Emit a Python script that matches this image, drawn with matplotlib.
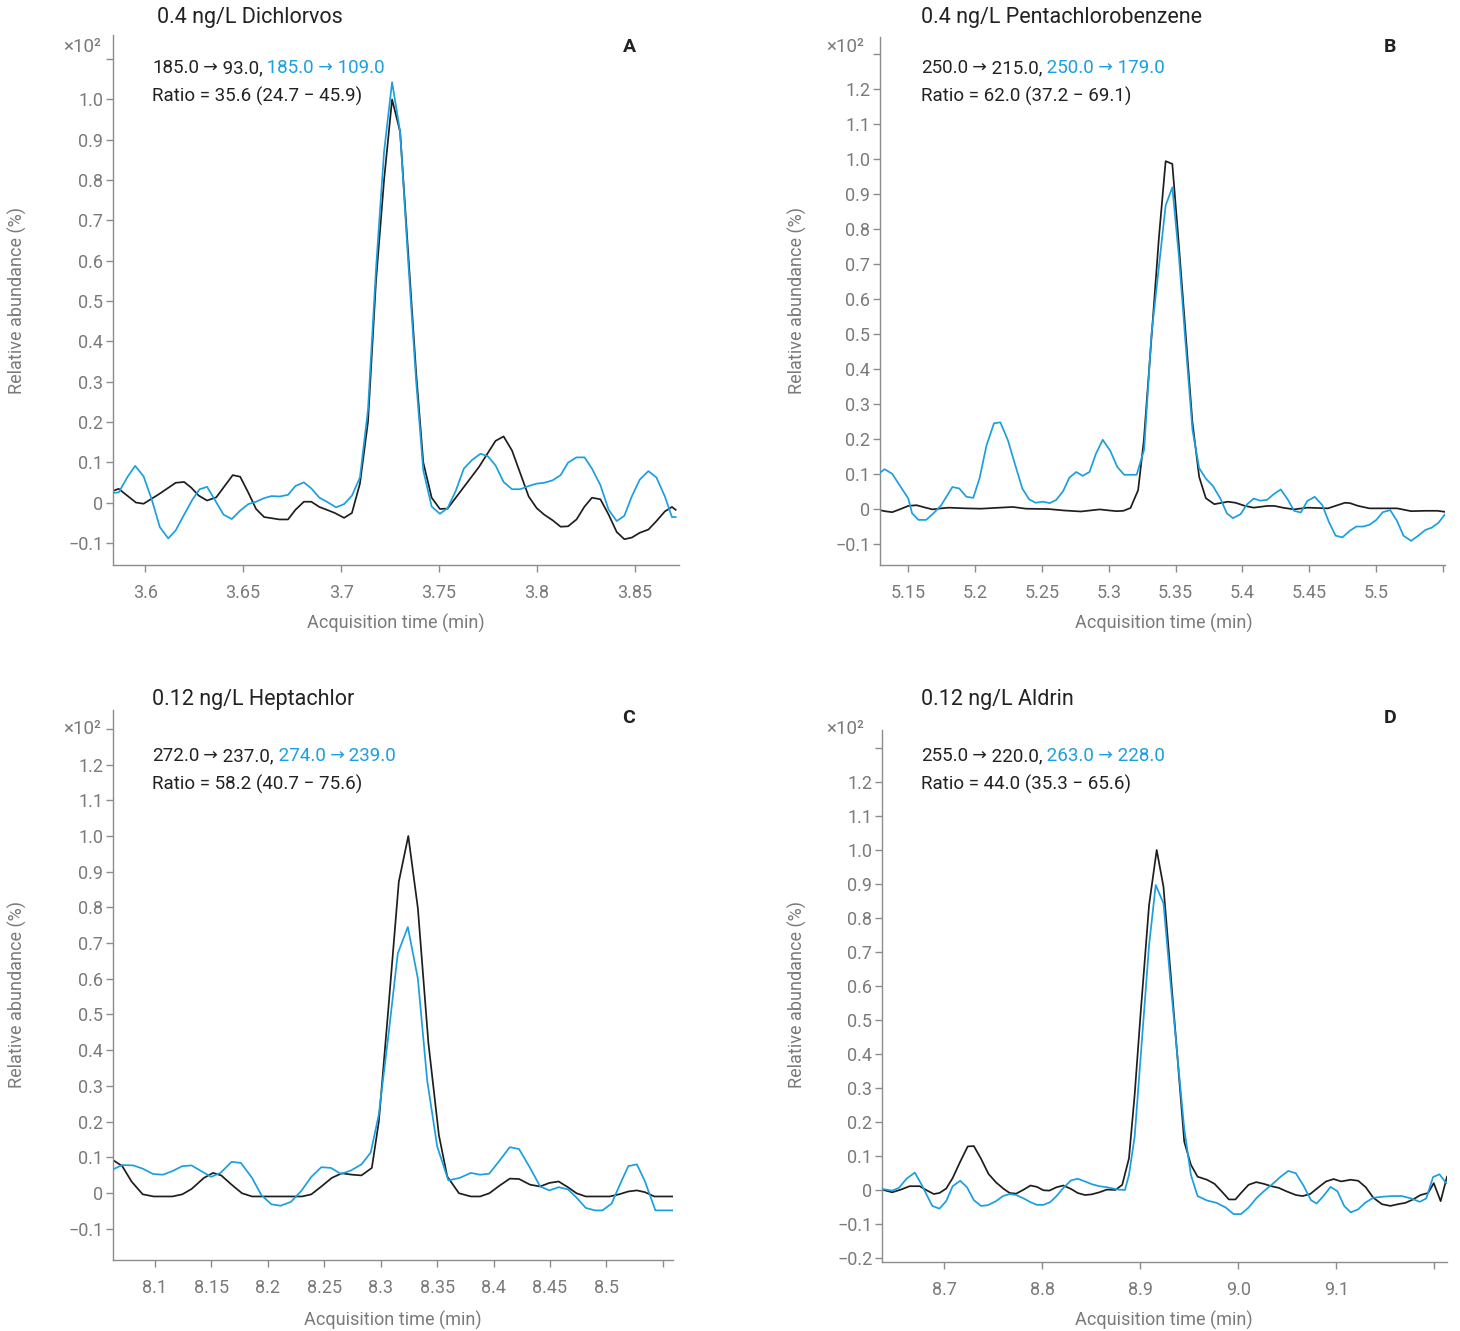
import matplotlib
matplotlib.use('Agg')
import matplotlib.pyplot as plt

plt.rcParams['font.family'] = ['Roboto', 'DejaVu Sans']
plt.rcParams['axes.unicode_minus'] = True

# ---------------- data ----------------
# Panel A: Dichlorvos
a_time_black = [3.5836, 3.5865, 3.5953, 3.5992, 3.6068, 3.6156, 3.6199, 3.6235, 3.6274, 3.6316,
                3.6363, 3.6447, 3.6485, 3.6528, 3.6566, 3.6607, 3.6686, 3.6729, 3.6767, 3.6810,
                3.6848, 3.6889, 3.6927, 3.6968, 3.7015, 3.7055, 3.7096, 3.7137, 3.7178, 3.7219,
                3.7260, 3.7301, 3.7342, 3.7383, 3.7419, 3.7462, 3.7504, 3.7543, 3.7703, 3.7788,
                3.7829, 3.7872, 3.7957, 3.7998, 3.8036, 3.8079, 3.8120, 3.8158, 3.8201, 3.8242,
                3.8280, 3.8323, 3.8365, 3.8406, 3.8445, 3.8483, 3.8524, 3.8568, 3.8609, 3.8652,
                3.8688, 3.8707]
a_black = [0.029, 0.034, 0.000, -0.003, 0.020, 0.049, 0.051, 0.037, 0.017, 0.005,
           0.013, 0.068, 0.064, 0.023, -0.016, -0.036, -0.042, -0.042, -0.018, 0.002,
           0.002, -0.011, -0.018, -0.026, -0.038, -0.026, 0.047, 0.20, 0.55, 0.80,
           1.00, 0.92, 0.62, 0.32, 0.10, 0.012, -0.016, -0.015, 0.088, 0.153,
           0.164, 0.129, 0.015, -0.014, -0.030, -0.044, -0.060, -0.059, -0.042, -0.010,
           0.012, 0.008, -0.030, -0.073, -0.091, -0.087, -0.075, -0.067, -0.046, -0.022,
           -0.011, -0.018]
a_time_blue = [3.5836, 3.5865, 3.5912, 3.5949, 3.5992, 3.6034, 3.6075, 3.6118, 3.6156, 3.6199,
               3.6241, 3.6278, 3.6316, 3.6400, 3.6442, 3.6485, 3.6526, 3.6566, 3.6607, 3.6645,
               3.6686, 3.6729, 3.6767, 3.6810, 3.6848, 3.6889, 3.6927, 3.6974, 3.7015, 3.7055,
               3.7096, 3.7137, 3.7178, 3.7219, 3.7260, 3.7301, 3.7342, 3.7383, 3.7419, 3.7462,
               3.7504, 3.7543, 3.7585, 3.7626, 3.7669, 3.7711, 3.7748, 3.7788, 3.7829, 3.7872,
               3.7914, 3.7957, 3.7998, 3.8036, 3.8079, 3.8120, 3.8158, 3.8201, 3.8242, 3.8280,
               3.8323, 3.8365, 3.8406, 3.8445, 3.8483, 3.8524, 3.8568, 3.8609, 3.8652, 3.8688,
               3.8707]
a_blue = [0.024, 0.025, 0.065, 0.091, 0.065, 0.007, -0.061, -0.089, -0.069, -0.030,
          0.007, 0.033, 0.039, -0.030, -0.041, -0.020, -0.004, 0.002, 0.011, 0.016,
          0.015, 0.019, 0.041, 0.050, 0.035, 0.012, 0.002, -0.012, -0.004, 0.017,
          0.062, 0.23, 0.58, 0.87, 1.043, 0.92, 0.60, 0.30, 0.08, -0.010,
          -0.028, -0.014, 0.029, 0.084, 0.106, 0.121, 0.115, 0.092, 0.051, 0.033,
          0.033, 0.041, 0.047, 0.049, 0.055, 0.068, 0.099, 0.112, 0.112, 0.084,
          0.043, -0.018, -0.046, -0.033, 0.015, 0.057, 0.078, 0.062, 0.015, -0.036,
          -0.036]

# Panel B: Pentachlorobenzene
b_time_black = [5.1288, 5.1322, 5.1379, 5.1435, 5.1500, 5.1562, 5.1619, 5.1681, 5.1746, 5.1802,
                5.1929, 5.2042, 5.2184, 5.2282, 5.2381, 5.2551, 5.2664, 5.2791, 5.2862, 5.2932,
                5.3003, 5.3059, 5.3110, 5.3163, 5.3220, 5.3263, 5.3376, 5.3426, 5.3476, 5.3526,
                5.3576, 5.3626, 5.3677, 5.3727, 5.3790, 5.3893, 5.3949, 5.4020, 5.4085, 5.4189,
                5.4240, 5.4302, 5.4387, 5.4486, 5.4641, 5.4712, 5.4768, 5.4805, 5.4867, 5.4952,
                5.5051, 5.5158, 5.5263, 5.5370, 5.5460, 5.5517]
b_black = [-0.003, -0.006, -0.009, -0.001, 0.009, 0.011, 0.005, -0.001, 0.002, 0.004,
           0.002, 0.001, 0.004, 0.006, 0.001, 0.000, -0.004, -0.007, -0.004, -0.001,
           -0.004, -0.006, -0.005, 0.003, 0.054, 0.197, 0.778, 0.995, 0.987, 0.75,
           0.50, 0.25, 0.092, 0.031, 0.014, 0.021, 0.018, 0.009, 0.004, 0.009,
           0.009, 0.004, -0.001, 0.004, 0.002, 0.011, 0.018, 0.017, 0.009, 0.002,
           0.002, 0.002, -0.006, -0.005, -0.005, -0.008]
b_time_blue = [5.1288, 5.1322, 5.1379, 5.1435, 5.1500, 5.1528, 5.1576, 5.1633, 5.1689, 5.1746,
               5.1830, 5.1881, 5.1935, 5.1986, 5.2034, 5.2085, 5.2141, 5.2189, 5.2246, 5.2297,
               5.2353, 5.2404, 5.2452, 5.2508, 5.2559, 5.2607, 5.2658, 5.2706, 5.2757, 5.2805,
               5.2856, 5.2904, 5.2955, 5.3011, 5.3065, 5.3116, 5.3209, 5.3265, 5.3320, 5.3426,
               5.3476, 5.3526, 5.3576, 5.3627, 5.3677, 5.3727, 5.3780, 5.3836, 5.3884, 5.3929,
               5.3986, 5.4034, 5.4085, 5.4133, 5.4184, 5.4240, 5.4288, 5.4339, 5.4387, 5.4438,
               5.4486, 5.4542, 5.4599, 5.4647, 5.4698, 5.4749, 5.4805, 5.4853, 5.4904, 5.4952,
               5.5003, 5.5051, 5.5107, 5.5158, 5.5206, 5.5263, 5.5314, 5.5370, 5.5418, 5.5469,
               5.5517]
b_blue = [0.104, 0.114, 0.101, 0.068, 0.030, -0.012, -0.031, -0.031, -0.012, 0.011,
          0.063, 0.059, 0.035, 0.032, 0.089, 0.182, 0.245, 0.248, 0.196, 0.130,
          0.059, 0.028, 0.018, 0.021, 0.017, 0.026, 0.051, 0.090, 0.106, 0.095,
          0.106, 0.158, 0.198, 0.167, 0.120, 0.098, 0.098, 0.17, 0.50, 0.868,
          0.92, 0.72, 0.47, 0.226, 0.117, 0.087, 0.066, 0.030, -0.012, -0.026,
          -0.015, 0.013, 0.030, 0.024, 0.026, 0.044, 0.056, 0.028, -0.005, -0.010,
          0.023, 0.035, 0.011, -0.036, -0.076, -0.081, -0.062, -0.050, -0.050, -0.045,
          -0.031, -0.009, -0.003, -0.034, -0.076, -0.091, -0.077, -0.060, -0.053, -0.039,
          -0.015]

# Panel C: Heptachlor
c_time_black = [8.0629, 8.0711, 8.0793, 8.0892, 8.0990, 8.1154, 8.1243, 8.1325, 8.1434, 8.1516,
                8.1588, 8.1680, 8.1772, 8.1861, 8.2304, 8.2386, 8.2475, 8.2567, 8.2656, 8.2748,
                8.2830, 8.2922, 8.2984, 8.3072, 8.3161, 8.3245, 8.3330, 8.3423, 8.3516, 8.3590,
                8.3694, 8.3799, 8.3881, 8.3963, 8.4052, 8.4144, 8.4226, 8.4324, 8.4413, 8.4495,
                8.4577, 8.4659, 8.4735, 8.4817, 8.5030, 8.5112, 8.5194, 8.5270, 8.5342, 8.5424,
                8.5589]
c_black = [0.092, 0.075, 0.032, -0.004, -0.010, -0.010, -0.004, 0.011, 0.042, 0.056,
           0.049, 0.023, -0.001, -0.010, -0.010, -0.004, 0.018, 0.042, 0.055, 0.051,
           0.049, 0.070, 0.20, 0.53, 0.872, 1.000, 0.797, 0.42, 0.162, 0.046,
           -0.001, -0.010, -0.010, -0.001, 0.020, 0.040, 0.039, 0.023, 0.018, 0.028,
           0.032, 0.016, -0.001, -0.010, -0.010, -0.004, 0.004, 0.007, 0.002, -0.010,
           -0.010]
c_time_blue = [8.0629, 8.0711, 8.0809, 8.0892, 8.0984, 8.1072, 8.1154, 8.1243, 8.1325, 8.1411,
               8.1499, 8.1581, 8.1680, 8.1762, 8.1861, 8.1943, 8.2032, 8.2114, 8.2206, 8.2298,
               8.2386, 8.2475, 8.2560, 8.2649, 8.2738, 8.2830, 8.2912, 8.2984, 8.3072, 8.3152,
               8.3241, 8.3330, 8.3412, 8.3501, 8.3600, 8.3700, 8.3799, 8.3881, 8.3963, 8.4052,
               8.4144, 8.4226, 8.4324, 8.4413, 8.4495, 8.4577, 8.4659, 8.4735, 8.4817, 8.4899,
               8.4965, 8.5046, 8.5112, 8.5194, 8.5270, 8.5342, 8.5434, 8.5589]
c_blue = [0.066, 0.078, 0.077, 0.068, 0.053, 0.051, 0.061, 0.075, 0.077, 0.061,
          0.045, 0.056, 0.087, 0.084, 0.042, -0.006, -0.032, -0.036, -0.025, 0.006,
          0.045, 0.072, 0.070, 0.053, 0.063, 0.080, 0.113, 0.22, 0.45, 0.671,
          0.745, 0.60, 0.316, 0.13, 0.035, 0.042, 0.056, 0.051, 0.054, 0.090,
          0.128, 0.123, 0.070, 0.018, 0.007, 0.016, 0.010, -0.013, -0.042, -0.049,
          -0.049, -0.030, 0.018, 0.075, 0.080, 0.032, -0.049, -0.049]

# Panel D: Aldrin
d_time_black = [8.6364, 8.6468, 8.6557, 8.6645, 8.6749, 8.6826, 8.6892, 8.6950, 8.7019, 8.7085,
                8.7162, 8.7239, 8.7301, 8.7374, 8.7451, 8.7528, 8.7606, 8.7667, 8.7733, 8.7810,
                8.7879, 8.7945, 8.8011, 8.8072, 8.8145, 8.8215, 8.8292, 8.8361, 8.8435, 8.8504,
                8.8581, 8.8658, 8.8747, 8.8815, 8.8884, 8.8942, 8.9003, 8.9089, 8.9167, 8.9236,
                8.9305, 8.9376, 8.9448, 8.9516, 8.9584, 8.9680, 8.9757, 8.9835, 8.9904, 8.9970,
                9.0027, 9.0104, 9.0182, 9.0259, 9.0336, 9.0413, 9.0490, 9.0587, 9.0656, 9.0733,
                9.0810, 9.0895, 9.0972, 9.1049, 9.1146, 9.1223, 9.1300, 9.1377, 9.1466, 9.1551,
                9.1628, 9.1705, 9.1782, 9.1859, 9.1936, 9.1994, 9.2064, 9.2129]
d_black = [0.001, -0.007, 0.001, 0.011, 0.011, -0.002, -0.012, -0.009, 0.004, 0.035,
           0.083, 0.128, 0.129, 0.092, 0.047, 0.022, 0.003, -0.009, -0.011, 0.001,
           0.013, 0.009, -0.001, -0.002, 0.008, 0.013, 0.003, -0.009, -0.015, -0.013,
           -0.007, 0.001, 0.000, 0.015, 0.093, 0.28, 0.52, 0.838, 1.000, 0.892,
           0.65, 0.40, 0.142, 0.074, 0.039, 0.030, 0.018, -0.006, -0.028, -0.028,
           -0.009, 0.015, 0.023, 0.018, 0.011, 0.006, -0.004, -0.015, -0.018, -0.012,
           0.006, 0.025, 0.032, 0.025, 0.030, 0.027, 0.008, -0.023, -0.042, -0.047,
           -0.042, -0.038, -0.028, -0.015, -0.009, 0.020, -0.033, 0.039]
d_time_blue = [8.6364, 8.6403, 8.6468, 8.6537, 8.6614, 8.6699, 8.6769, 8.6877, 8.6950, 8.7019,
               8.7085, 8.7162, 8.7231, 8.7301, 8.7374, 8.7443, 8.7528, 8.7598, 8.7667, 8.7733,
               8.7810, 8.7879, 8.7945, 8.8011, 8.8080, 8.8145, 8.8215, 8.8292, 8.8361, 8.8435,
               8.8504, 8.8581, 8.8658, 8.8774, 8.8843, 8.8884, 8.8942, 8.9003, 8.9089, 8.9157,
               8.9236, 8.9305, 8.9376, 8.9448, 8.9516, 8.9584, 8.9680, 8.9777, 8.9873, 8.9950,
               9.0027, 9.0104, 9.0182, 9.0259, 9.0347, 9.0432, 9.0509, 9.0587, 9.0664, 9.0741,
               9.0799, 9.0868, 9.0941, 9.1011, 9.1080, 9.1146, 9.1223, 9.1292, 9.1377, 9.1470,
               9.1570, 9.1667, 9.1763, 9.1852, 9.1917, 9.1987, 9.2052, 9.2121]
d_blue = [0.003, 0.001, -0.002, 0.006, 0.033, 0.051, 0.015, -0.047, -0.055, -0.033,
          0.011, 0.027, 0.008, -0.030, -0.047, -0.045, -0.033, -0.018, -0.012, -0.015,
          -0.025, -0.036, -0.044, -0.044, -0.036, -0.018, 0.006, 0.028, 0.033, 0.025,
          0.017, 0.011, 0.008, 0.001, 0.000, 0.044, 0.157, 0.39, 0.72, 0.897,
          0.843, 0.62, 0.40, 0.18, 0.044, -0.018, -0.031, -0.038, -0.052, -0.071,
          -0.071, -0.052, -0.025, -0.004, 0.017, 0.039, 0.056, 0.049, 0.013, -0.030,
          -0.040, -0.018, 0.009, -0.004, -0.047, -0.066, -0.057, -0.038, -0.023, -0.020,
          -0.018, -0.018, -0.025, -0.035, -0.025, 0.038, 0.046, 0.020]

titles = ['0.4 ng/L Dichlorvos', '0.4 ng/L Pentachlorobenzene',
          '0.12 ng/L Heptachlor', '0.12 ng/L Aldrin']
# quantifier (black) and qualifier (blue) transitions: precursor, product
quant_pre = ['185.0', '250.0', '272.0', '255.0']
quant_prod = ['93.0', '215.0', '237.0', '220.0']
qual_pre = ['185.0', '250.0', '274.0', '263.0']
qual_prod = ['109.0', '179.0', '239.0', '228.0']
ratios = ['Ratio = 35.6 (24.7 \u2212 45.9)', 'Ratio = 62.0 (37.2 \u2212 69.1)',
          'Ratio = 58.2 (40.7 \u2212 75.6)', 'Ratio = 44.0 (35.3 \u2212 65.6)']
letters = ['A', 'B', 'C', 'D']

a_xticks = [3.6, 3.65, 3.7, 3.75, 3.8, 3.85]
a_xticklabels = ['3.6', '3.65', '3.7', '3.75', '3.8', '3.85']
b_xticks = [5.15, 5.2, 5.25, 5.3, 5.35, 5.4, 5.45, 5.5, 5.55]
b_xticklabels = ['5.15', '5.2', '5.25', '5.3', '5.35', '5.4', '5.45', '5.5', '']
c_xticks = [8.1, 8.15, 8.2, 8.25, 8.3, 8.35, 8.4, 8.45, 8.5, 8.55]
c_xticklabels = ['8.1', '8.15', '8.2', '8.25', '8.3', '8.35', '8.4', '8.45', '8.5', '']
d_xticks = [8.7, 8.8, 8.9, 9.0, 9.1, 9.2]
d_xticklabels = ['8.7', '8.8', '8.9', '9.0', '9.1', '']

a_yticks = [-0.1, 0, 0.1, 0.2, 0.3, 0.4, 0.5, 0.6, 0.7, 0.8, 0.9, 1.0, 1.1]
a_yticklabels = ['\u22120.1', '0', '0.1', '0.2', '0.3', '0.4', '0.5', '0.6', '0.7', '0.8', '0.9', '1.0', '']
bc_yticks = [-0.1, 0, 0.1, 0.2, 0.3, 0.4, 0.5, 0.6, 0.7, 0.8, 0.9, 1.0, 1.1, 1.2, 1.3]
bc_yticklabels = ['\u22120.1', '0', '0.1', '0.2', '0.3', '0.4', '0.5', '0.6', '0.7', '0.8', '0.9',
                  '1.0', '1.1', '1.2', '']
d_yticks = [-0.2, -0.1, 0, 0.1, 0.2, 0.3, 0.4, 0.5, 0.6, 0.7, 0.8, 0.9, 1.0, 1.1, 1.2, 1.3]
d_yticklabels = ['\u22120.2', '\u22120.1', '0', '0.1', '0.2', '0.3', '0.4', '0.5', '0.6', '0.7',
                 '0.8', '0.9', '1.0', '1.1', '1.2', '']

# ---------------- styling / layout ----------------
W, H = 1460, 1331
BLACK = '#1e1e1e'
BLUE = '#1a9fe0'
GRAY = '#7a7a7a'
SPINE = '#8c8c8c'
TXT = '#222222'
ANN = 13.5
ARROW = 12.5

fig = plt.figure(figsize=(W / 100, H / 100), dpi=100)
renderer = fig.canvas.get_renderer()


def fx(x):
    return x / W


def fy(y):
    return 1 - y / H


def put_pieces(x_px, y_px, pieces):
    x = x_px
    for s, color, size in pieces:
        t = fig.text(x / W, fy(y_px), s, color=color, fontsize=size,
                     ha='left', va='center')
        x = t.get_window_extent(renderer=renderer).x1


panels = [
    dict(rect=(113, 35, 679, 565), xlim=(3.5836, 3.8724), ylim=(-0.155, 1.16),
         xt=a_xticks, xtl=a_xticklabels, yt=a_yticks, ytl=a_yticklabels,
         tb=a_time_black, vb=a_black, tc=a_time_blue, vc=a_blue,
         title_xy=(157, 18), ann_x=152, ann_y=(68, 96), letter_xy=(629, 47),
         exp_xy=(101, 47), ylab_xy=(17, 300), xlab_xy=(396, 623)),
    dict(rect=(880, 37, 1445, 565), xlim=(5.1288, 5.5517), ylim=(-0.16, 1.35),
         xt=b_xticks, xtl=b_xticklabels, yt=bc_yticks, ytl=bc_yticklabels,
         tb=b_time_black, vb=b_black, tc=b_time_blue, vc=b_blue,
         title_xy=(921, 18), ann_x=921, ann_y=(68, 96), letter_xy=(1390, 47),
         exp_xy=(864, 47), ylab_xy=(797, 300), xlab_xy=(1164, 623)),
    dict(rect=(113, 710, 673, 1260), xlim=(8.0629, 8.559), ylim=(-0.188, 1.353),
         xt=c_xticks, xtl=c_xticklabels, yt=bc_yticks, ytl=bc_yticklabels,
         tb=c_time_black, vb=c_black, tc=c_time_blue, vc=c_blue,
         title_xy=(152, 699), ann_x=152, ann_y=(756, 784), letter_xy=(629, 718),
         exp_xy=(101, 729), ylab_xy=(17, 994), xlab_xy=(393, 1320)),
    dict(rect=(882, 730, 1447, 1262), xlim=(8.6364, 9.2129), ylim=(-0.212, 1.353),
         xt=d_xticks, xtl=d_xticklabels, yt=d_yticks, ytl=d_yticklabels,
         tb=d_time_black, vb=d_black, tc=d_time_blue, vc=d_blue,
         title_xy=(921, 699), ann_x=921, ann_y=(756, 784), letter_xy=(1390, 718),
         exp_xy=(864, 729), ylab_xy=(797, 994), xlab_xy=(1164, 1320)),
]

for i, p in enumerate(panels):
    l, t, r, b = p['rect']
    ax = fig.add_axes([fx(l), fy(b), (r - l) / W, (b - t) / H])
    ax.plot(p['tb'], p['vb'], color=BLACK, lw=1.25, zorder=2)
    ax.plot(p['tc'], p['vc'], color=BLUE, lw=1.25, zorder=3)
    ax.set_xlim(*p['xlim'])
    ax.set_ylim(*p['ylim'])
    ax.set_xticks(p['xt'])
    ax.set_xticklabels(p['xtl'])
    ax.set_yticks(p['yt'])
    ax.set_yticklabels(p['ytl'])
    for s in ('top', 'right'):
        ax.spines[s].set_visible(False)
    for s in ('left', 'bottom'):
        ax.spines[s].set_color(SPINE)
        ax.spines[s].set_linewidth(1.0)
    ax.tick_params(axis='both', direction='out', length=5, width=1, color=SPINE,
                   labelcolor=GRAY, labelsize=13)
    ax.tick_params(axis='x', pad=9)
    ax.tick_params(axis='y', pad=2)
    ax.set_facecolor('none')

    # title
    fig.text(fx(p['title_xy'][0]), fy(p['title_xy'][1]), titles[i], fontsize=15.5,
             color=TXT, ha='left', va='center')
    # two-colour transition line
    put_pieces(p['ann_x'], p['ann_y'][0], [
        (quant_pre[i], TXT, ANN),
        (' \u2192', TXT, ARROW),
        (' ' + quant_prod[i] + ',', TXT, ANN),
        (' ' + qual_pre[i], BLUE, ANN),
        (' \u2192', BLUE, ARROW),
        (' ' + qual_prod[i], BLUE, ANN),
    ])
    fig.text(fx(p['ann_x']), fy(p['ann_y'][1]), ratios[i], fontsize=ANN,
             color=TXT, ha='left', va='center')
    # panel letter
    fig.text(fx(p['letter_xy'][0]), fy(p['letter_xy'][1]), letters[i], fontsize=14,
             fontweight='bold', color=TXT, ha='center', va='center')
    # exponent label
    fig.text(fx(p['exp_xy'][0]), fy(p['exp_xy'][1]), '\u00d710\u00b2', fontsize=13.5,
             color=GRAY, ha='right', va='center')
    # axis labels
    fig.text(fx(p['ylab_xy'][0]), fy(p['ylab_xy'][1]), 'Relative abundance (%)',
             fontsize=13, color=GRAY, rotation=90, ha='center', va='center')
    fig.text(fx(p['xlab_xy'][0]), fy(p['xlab_xy'][1]), 'Acquisition time (min)',
             fontsize=13, color=GRAY, ha='center', va='center')

fig.savefig('out.png', dpi=100, facecolor='white')
